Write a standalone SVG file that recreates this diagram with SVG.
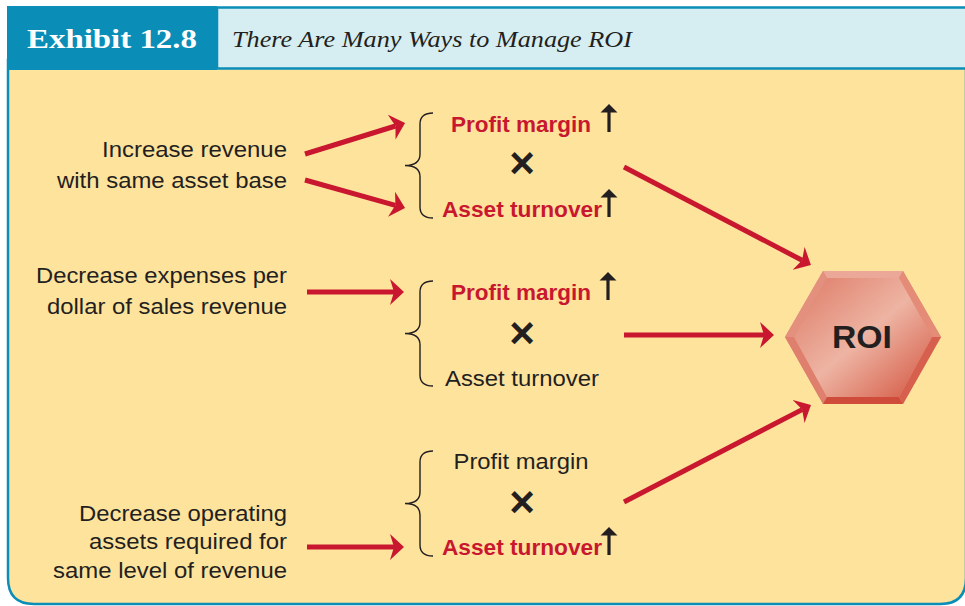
<svg xmlns="http://www.w3.org/2000/svg" width="965" height="606" viewBox="0 0 965 606">
  <style>
    .lbl { font-family: "Liberation Sans", Arial, sans-serif; font-size: 22px; fill: #231f20; text-anchor: end; }
    .fac { font-family: "Liberation Sans", Arial, sans-serif; font-size: 22px; fill: #231f20; text-anchor: middle; }
    .hot { font-family: "Liberation Sans", Arial, sans-serif; font-size: 22px; font-weight: bold; fill: #c8172e; text-anchor: middle; }
    .times { font-family: "Liberation Sans", Arial, sans-serif; font-size: 44px; font-weight: bold; fill: #231f20; text-anchor: middle; }
    .brace { fill: none; stroke: #231f20; stroke-width: 1.4; }
    .conn { fill: none; stroke: #c8172e; stroke-width: 5; }
    .up { fill: #231f20; }
  </style>
  <defs>
    <marker id="head" viewBox="0 0 14 26" refX="4" refY="13" markerWidth="14" markerHeight="26" markerUnits="userSpaceOnUse" orient="auto">
      <path d="M0,0 L14,13 L0,26 L4,13 Z" fill="#c8172e"/>
    </marker>
    <path id="curly" d="M28,0 C20,0 15,3 15,11 L15,41 C15,48 11,52.5 0,52.5 C11,52.5 15,57 15,64 L15,94 C15,102 20,105 28,105"/>
    <path id="uparrow" d="M-1.6,28 V8.5 H-8.5 L0,0 L8.5,8.5 H1.6 V28 Z"/>
    <linearGradient id="faceFill" x1="0" y1="0" x2="1" y2="1">
      <stop offset="0" stop-color="#dd7a66"/>
      <stop offset="0.5" stop-color="#eeb4a3"/>
      <stop offset="1" stop-color="#d2543f"/>
    </linearGradient>
  </defs>

  <!-- panel -->
  <g id="panel">
    <path d="M8,60 V578 Q8,604 34,604 H940 Q966,604 966,578 V60 Z" fill="#fee39d" stroke="#0a8db7" stroke-width="2.5"/>
    <rect x="217" y="7.5" width="760" height="61" fill="#d6eef2" stroke="#0a8db7" stroke-width="2.5"/>
    <rect x="7" y="6" width="210" height="64" fill="#0a8db7"/>
    <text x="27" y="48" font-family="'Liberation Serif', 'Times New Roman', serif" font-size="27" font-weight="bold" fill="#ffffff" textLength="170" lengthAdjust="spacingAndGlyphs">Exhibit 12.8</text>
    <text x="232" y="47" font-family="'Liberation Serif', 'Times New Roman', serif" font-size="24" font-style="italic" fill="#231f20" textLength="400" lengthAdjust="spacingAndGlyphs">There Are Many Ways to Manage ROI</text>
  </g>

  <!-- actions -->
  <g id="action-revenue">
    <text class="lbl" x="287" y="157" textLength="185" lengthAdjust="spacingAndGlyphs">Increase revenue</text>
    <text class="lbl" x="287" y="188" textLength="230" lengthAdjust="spacingAndGlyphs">with same asset base</text>
  </g>
  <g id="action-expenses">
    <text class="lbl" x="287" y="283" textLength="251" lengthAdjust="spacingAndGlyphs">Decrease expenses per</text>
    <text class="lbl" x="287" y="314" textLength="240" lengthAdjust="spacingAndGlyphs">dollar of sales revenue</text>
  </g>
  <g id="action-assets">
    <text class="lbl" x="287" y="521" textLength="208" lengthAdjust="spacingAndGlyphs">Decrease operating</text>
    <text class="lbl" x="287" y="549" textLength="198" lengthAdjust="spacingAndGlyphs">assets required for</text>
    <text class="lbl" x="287" y="578" textLength="234" lengthAdjust="spacingAndGlyphs">same level of revenue</text>
  </g>

  <!-- factor groups -->
  <g id="factors-1">
    <use href="#curly" class="brace" transform="translate(405,113)"/>
    <text class="hot" x="521" y="132" textLength="140" lengthAdjust="spacingAndGlyphs">Profit margin</text>
    <use href="#uparrow" class="up" transform="translate(609,104)"/>
    <text class="times" x="522" y="178">×</text>
    <text class="hot" x="522" y="217" textLength="160" lengthAdjust="spacingAndGlyphs">Asset turnover</text>
    <use href="#uparrow" class="up" transform="translate(609,189)"/>
  </g>
  <g id="factors-2">
    <use href="#curly" class="brace" transform="translate(405,281)"/>
    <text class="hot" x="521" y="300" textLength="140" lengthAdjust="spacingAndGlyphs">Profit margin</text>
    <use href="#uparrow" class="up" transform="translate(608,272)"/>
    <text class="times" x="522" y="348">×</text>
    <text class="fac" x="522" y="386" textLength="154" lengthAdjust="spacingAndGlyphs">Asset turnover</text>
  </g>
  <g id="factors-3">
    <use href="#curly" class="brace" transform="translate(405,451)"/>
    <text class="fac" x="521" y="469" textLength="135" lengthAdjust="spacingAndGlyphs">Profit margin</text>
    <text class="times" x="522" y="517">×</text>
    <text class="hot" x="522" y="555" textLength="160" lengthAdjust="spacingAndGlyphs">Asset turnover</text>
    <use href="#uparrow" class="up" transform="translate(609,527)"/>
  </g>

  <!-- ROI hexagon with bevelled rim -->
  <g id="roi">
    <polygon points="785,337 823,271 903,271 941,337 903,404 823,404" fill="#e08b78"/>
    <polygon points="823,271 903,271 899,278 827,278" fill="#eba898"/>
    <polygon points="785,337 823,271 827,278 794,337" fill="#e3917e"/>
    <polygon points="785,337 794,337 827,397 823,404" fill="#de806d"/>
    <polygon points="823,404 827,397 899,397 903,404" fill="#cf4c3b"/>
    <polygon points="903,404 899,397 932,337 941,337" fill="#d6604d"/>
    <polygon points="941,337 932,337 899,278 903,271" fill="#e48c78"/>
    <polygon points="794,337 827,278 899,278 932,337 899,397 827,397" fill="url(#faceFill)"/>
    <text x="862" y="348" font-family="'Liberation Sans', Arial, sans-serif" font-size="32" font-weight="bold" fill="#231f20" text-anchor="middle" textLength="60" lengthAdjust="spacingAndGlyphs">ROI</text>
  </g>

  <!-- connectors -->
  <g id="connectors" class="conn" marker-end="url(#head)">
    <line x1="305" y1="154" x2="395.5" y2="126"/>
    <line x1="305" y1="180" x2="395.4" y2="205.3"/>
    <line x1="307" y1="292" x2="394" y2="292"/>
    <line x1="307" y1="547" x2="394" y2="547"/>
    <line x1="624" y1="167" x2="802.1" y2="260.3"/>
    <line x1="624" y1="335" x2="764" y2="335"/>
    <line x1="624" y1="502" x2="802.1" y2="409.6"/>
  </g>
</svg>
